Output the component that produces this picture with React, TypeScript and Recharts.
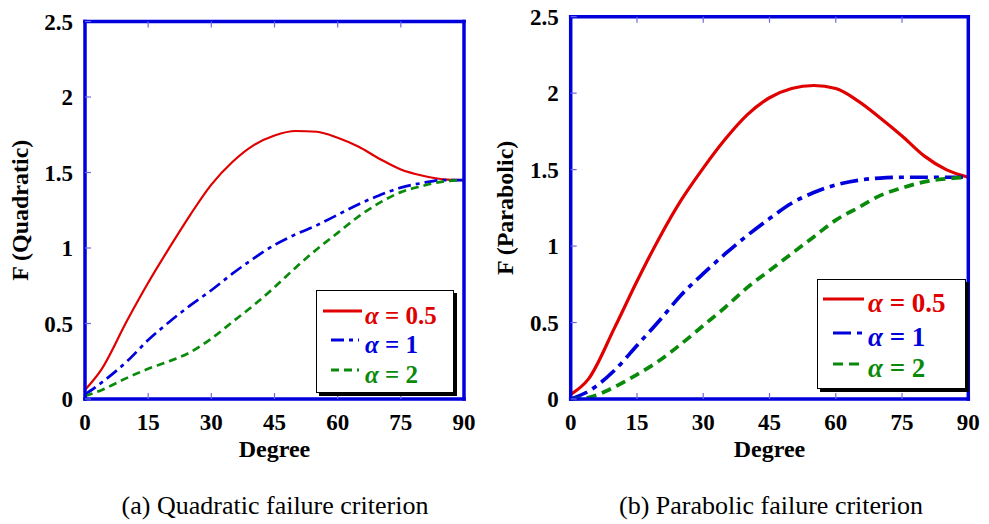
import { LineChart, Line, XAxis, YAxis } from 'recharts';

const degrees = [0, 4, 10, 15, 20, 25, 30, 35, 40, 45, 50, 55, 60, 65, 70, 75, 80, 85, 90];

// (a) quadratic failure criterion
const quadAlpha05 = [0.06, 0.2, 0.52, 0.77, 1.0, 1.22, 1.42, 1.57, 1.68, 1.745, 1.775, 1.77, 1.73, 1.67, 1.59, 1.52, 1.48, 1.455, 1.45];
const quadAlpha1 = [0.03, 0.11, 0.25, 0.39, 0.51, 0.62, 0.72, 0.83, 0.93, 1.02, 1.09, 1.15, 1.22, 1.29, 1.35, 1.4, 1.43, 1.45, 1.45];
const quadAlpha2 = [0.02, 0.06, 0.14, 0.2, 0.25, 0.31, 0.4, 0.51, 0.62, 0.74, 0.87, 0.99, 1.1, 1.21, 1.3, 1.37, 1.41, 1.44, 1.45];

// (b) parabolic failure criterion
const paraAlpha05 = [0.03, 0.13, 0.47, 0.77, 1.05, 1.3, 1.51, 1.7, 1.86, 1.97, 2.03, 2.05, 2.03, 1.95, 1.84, 1.72, 1.59, 1.5, 1.45];
const paraAlpha1 = [0, 0.05, 0.19, 0.35, 0.51, 0.68, 0.82, 0.95, 1.07, 1.18, 1.28, 1.35, 1.4, 1.43, 1.445, 1.45, 1.45, 1.45, 1.45];
const paraAlpha2 = [0, 0.01, 0.08, 0.16, 0.25, 0.36, 0.48, 0.6, 0.73, 0.84, 0.95, 1.06, 1.17, 1.25, 1.33, 1.38, 1.42, 1.44, 1.45];

const xTicks = [0, 15, 30, 45, 60, 75, 90];
const yTicks = [0, 0.5, 1, 1.5, 2, 2.5];
const seriesNames = ['\u03b1 = 0.5', '\u03b1 = 1', '\u03b1 = 2'];

const FONT = 'Liberation Serif, Times New Roman, serif';
const FRAME = '#0000dd';
const TICK = '#6a6ae8';
const RED = '#e00000';
const BLUE = '#0000dd';
const GREEN = '#0a8a0a';

const buildRows = (a: number[], b: number[], c: number[]) =>
  degrees.map((deg, i) => ({ deg, a05: a[i], a1: b[i], a2: c[i] }));

const tickStyle = { fontFamily: FONT, fontWeight: 'bold', fontSize: 23, fill: '#000' };
const labelStyle = { fontFamily: FONT, fontWeight: 'bold', fontSize: 24, fill: '#000' };
const axisLineStyle = { stroke: FRAME, strokeWidth: 3.5, strokeLinecap: 'square' as const };

interface LegendBox {
  left: number;
  top: number;
  width: number;
  height: number;
  rows: number[];
  lineX: [number, number];
  dashX: [number, number];
  textX: number;
  fontSize: number;
}

const FrameLegend = ({ box, dashes }: { box: LegendBox; dashes: string[] }) => {
  const colors = [RED, BLUE, GREEN];
  return (
    <div
      style={{
        position: 'absolute',
        left: box.left,
        top: box.top,
        width: box.width,
        height: box.height,
        border: '1.5px solid #000',
        boxShadow: '3px 3px 0 #000',
        background: '#fff',
        boxSizing: 'border-box',
      }}
    >
      <svg width={box.width - 3} height={box.height - 3} style={{ display: 'block' }}>
        {seriesNames.map((name, i) => {
          const y = box.rows[i];
          const [x1, x2] = i === 0 ? box.lineX : box.dashX;
          const [alpha, rest] = name.split(' = ');
          return (
            <g key={name}>
              <line x1={x1} x2={x2} y1={y - 13} y2={y - 13} stroke={colors[i]} strokeWidth={3} strokeDasharray={dashes[i]} />
              <text x={box.textX} y={y} fill={colors[i]} fontFamily={FONT} fontWeight="bold" fontSize={box.fontSize}>
                <tspan fontStyle="italic">{alpha}</tspan>
                <tspan> = {rest}</tspan>
              </text>
            </g>
          );
        })}
      </svg>
    </div>
  );
};

interface PanelProps {
  rows: { deg: number; a05: number; a1: number; a2: number }[];
  yLabel: string;
  width: number;
  height: number;
  margin: { top: number; right: number; bottom: number; left: number };
  labelOffset: number;
  lineWidth: number;
  dashes: string[];
}

const Panel = ({ rows, yLabel, width, height, margin, labelOffset, lineWidth, dashes }: PanelProps) => (
  <LineChart width={width} height={height} data={rows} margin={margin}>
    <XAxis
      dataKey="deg"
      type="number"
      domain={[0, 90]}
      ticks={xTicks}
      interval={0}
      height={60}
      tickSize={-6}
      tickMargin={21}
      tick={tickStyle}
      tickLine={{ stroke: TICK, strokeWidth: 1.2 }}
      axisLine={axisLineStyle}
      label={{ value: 'Degree', position: 'insideBottom', offset: 2, style: labelStyle }}
    />
    <XAxis
      xAxisId="top"
      orientation="top"
      dataKey="deg"
      type="number"
      domain={[0, 90]}
      ticks={xTicks}
      interval={0}
      height={10}
      tickSize={-6}
      tickFormatter={() => ''}
      tickLine={{ stroke: TICK, strokeWidth: 1.2 }}
      axisLine={axisLineStyle}
    />
    <YAxis
      type="number"
      domain={[0, 2.5]}
      ticks={yTicks}
      interval={0}
      width={80}
      tickSize={-6}
      tickMargin={18}
      tick={tickStyle}
      tickLine={{ stroke: TICK, strokeWidth: 1.2 }}
      axisLine={axisLineStyle}
      label={{
        value: yLabel,
        angle: -90,
        position: 'insideLeft',
        offset: labelOffset,
        style: { ...labelStyle, textAnchor: 'middle' },
      }}
    />
    <YAxis
      yAxisId="right"
      orientation="right"
      type="number"
      domain={[0, 2.5]}
      ticks={yTicks}
      interval={0}
      width={10}
      tickSize={-6}
      tickFormatter={() => ''}
      tickLine={{ stroke: TICK, strokeWidth: 1.2 }}
      axisLine={axisLineStyle}
    />
    <Line dataKey="a05" name={seriesNames[0]} type="monotone" stroke={RED} strokeWidth={lineWidth} dot={false} isAnimationActive={false} />
    <Line dataKey="a1" name={seriesNames[1]} type="monotone" stroke={BLUE} strokeWidth={lineWidth + 0.5} strokeDasharray={dashes[1]} dot={false} isAnimationActive={false} />
    <Line dataKey="a2" name={seriesNames[2]} type="monotone" stroke={GREEN} strokeWidth={lineWidth + 0.5} strokeDasharray={dashes[2]} dot={false} isAnimationActive={false} />
  </LineChart>
);

const captionStyle = {
  position: 'absolute' as const,
  top: 493,
  fontFamily: FONT,
  fontSize: 26,
  lineHeight: '26px',
  textAlign: 'center' as const,
  whiteSpace: 'nowrap' as const,
  color: '#000',
};

const leftDashes = ['', '13 5 4 5', '8 5'];
const rightDashes = ['', '18 6 5 6', '10 6'];

export default function App() {
  return (
    <div style={{ position: 'absolute', left: 0, top: 0, width: 989, height: 524, background: '#fff' }}>
      <div style={{ position: 'absolute', left: 0, top: 0 }}>
        <Panel
          rows={buildRows(quadAlpha05, quadAlpha1, quadAlpha2)}
          yLabel="F (Quadratic)"
          width={485}
          height={470}
          margin={{ top: 11.5, right: 11, bottom: 11, left: 5 }}
          labelOffset={14}
          lineWidth={2.2}
          dashes={leftDashes}
        />
      </div>
      <div style={{ position: 'absolute', left: 485, top: 0 }}>
        <Panel
          rows={buildRows(paraAlpha05, paraAlpha1, paraAlpha2)}
          yLabel="F (Parabolic)"
          width={500}
          height={470}
          margin={{ top: 6.7, right: 6.7, bottom: 11, left: 5.7 }}
          labelOffset={13.5}
          lineWidth={3.2}
          dashes={rightDashes}
        />
      </div>
      <FrameLegend
        box={{ left: 316, top: 290, width: 138, height: 103, rows: [33, 62, 92], lineX: [6, 45], dashX: [14, 42], textX: 48, fontSize: 25 }}
        dashes={leftDashes}
      />
      <FrameLegend
        box={{ left: 817, top: 279, width: 149, height: 110, rows: [32, 66, 97], lineX: [5, 46], dashX: [15, 46], textX: 50, fontSize: 27 }}
        dashes={rightDashes}
      />
      <div style={{ ...captionStyle, left: 105, width: 340 }}>(a) Quadratic failure criterion</div>
      <div style={{ ...captionStyle, left: 601, width: 340 }}>(b) Parabolic failure criterion</div>
    </div>
  );
}
